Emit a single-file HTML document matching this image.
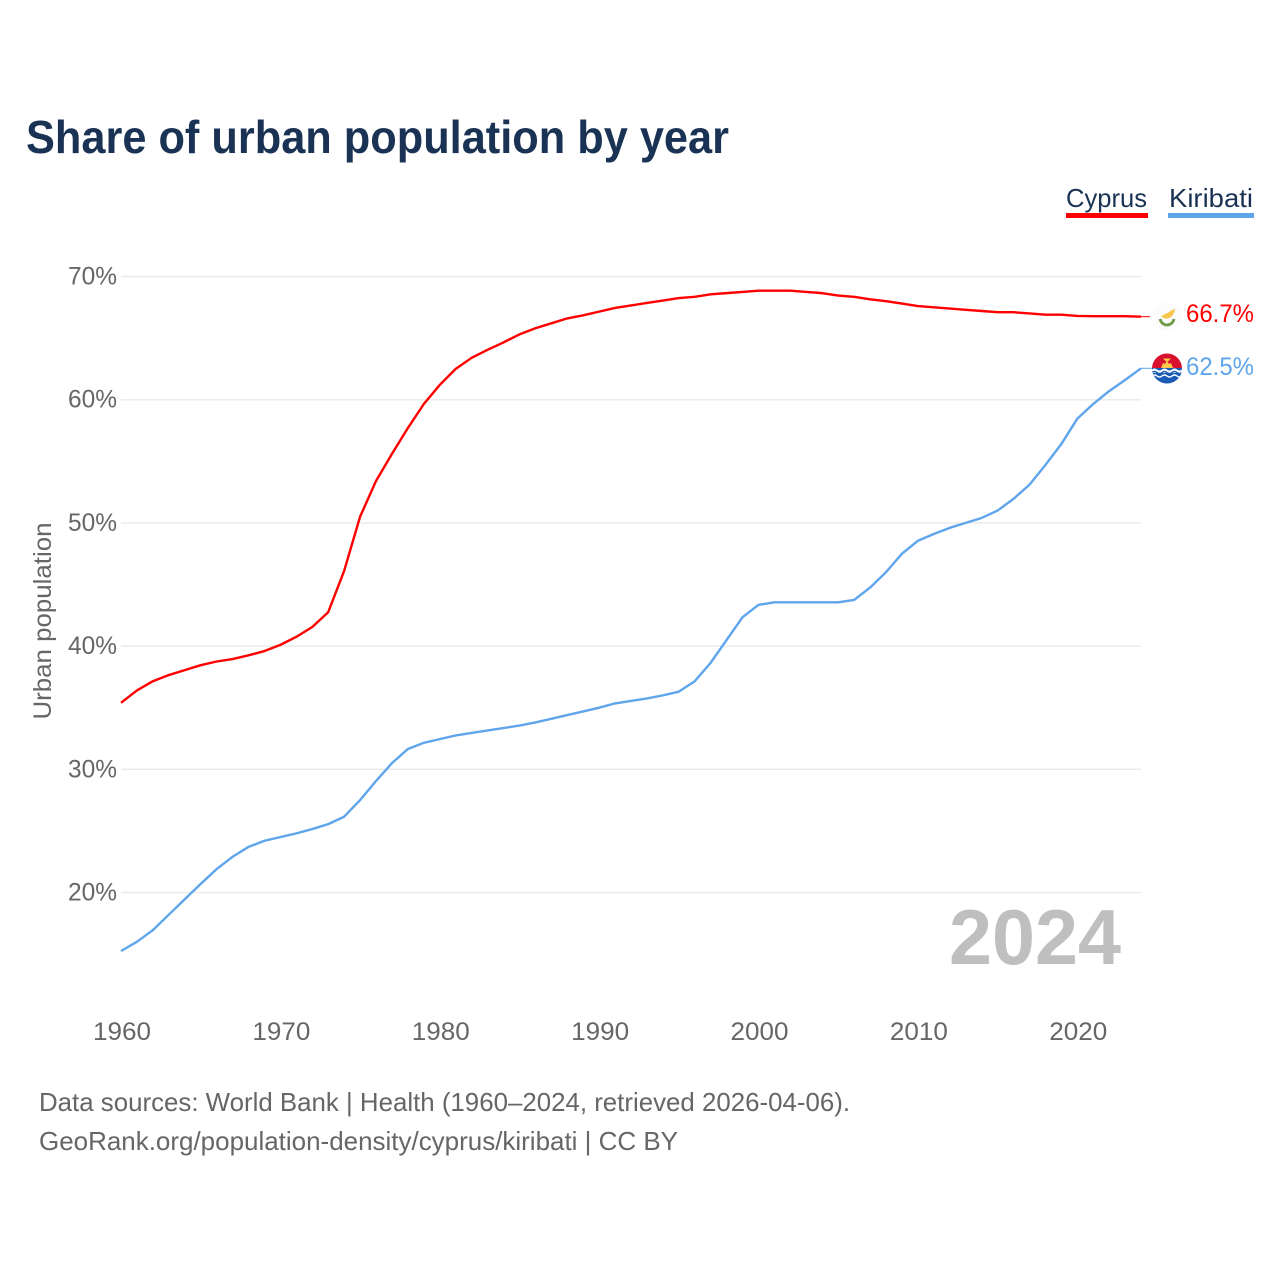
<!DOCTYPE html>
<html lang="en">
<head>
<meta charset="utf-8">
<title>Share of urban population by year</title>
<style>
html,body{margin:0;padding:0;background:#fff;width:1280px;height:1280px;overflow:hidden}
svg{display:block}
text{font-family:"Liberation Sans",sans-serif}
</style>
</head>
<body>
<svg id="chart" width="1280" height="1280" viewBox="0 0 1280 1280" xmlns="http://www.w3.org/2000/svg">
  <rect x="0" y="0" width="1280" height="1280" fill="#fff"/>
  <text x="26" y="153" font-size="46" font-weight="700" fill="#1a3354" textLength="703" lengthAdjust="spacingAndGlyphs">Share of urban population by year</text>

  <g>
    <text x="1066" y="207" font-size="26" fill="#1a3354" textLength="81" lengthAdjust="spacingAndGlyphs">Cyprus</text>
    <rect x="1066" y="213" width="82" height="5" fill="#ff0000"/>
  </g>
  <g>
    <text x="1169" y="207" font-size="26" fill="#1a3354" textLength="84" lengthAdjust="spacingAndGlyphs">Kiribati</text>
    <rect x="1168" y="213" width="86" height="5" fill="#5ea5ec"/>
  </g>

  <g id="grid"></g>
  <g id="yticks"></g>
  <g id="xticks"></g>

  <text transform="translate(51,621) rotate(-90)" text-anchor="middle" font-size="25" fill="#666" textLength="197" lengthAdjust="spacingAndGlyphs">Urban population</text>

  <text x="949" y="964" font-size="78" font-weight="700" fill="#bfbfbf" textLength="172" lengthAdjust="spacingAndGlyphs">2024</text>

  <g id="series"></g>

  <g>
    <circle cx="1167" cy="316.5" r="14.5" fill="#fbfbfb"/>
    <path d="M1161 316 C1164 314.5 1167 313.5 1169 312 C1171 310.5 1173 309.5 1175.5 309 C1174.5 312 1173 315 1171 317 C1168 319 1164 319.5 1161 316 Z" fill="#f6c54a"/>
    <path d="M1160 319 C1161 323 1164 325 1167 325 C1170 325 1173 323 1174 319" fill="none" stroke="#6f9a45" stroke-width="2.8"/>
  </g>
  <g>
    <clipPath id="kiribati-clip"><circle cx="1167" cy="368.5" r="15"/></clipPath>
    <g clip-path="url(#kiribati-clip)">
      <rect x="1152" y="353" width="30" height="15" fill="#d8112e"/>
      <rect x="1152" y="368" width="30" height="16" fill="#1a5cb5"/>
      <path d="M1161 368 L1163 363 L1165 364 L1167 360 L1169 364 L1171 363 L1173 368 Z" fill="#fbc84b"/>
      <path d="M1163 358.5 L1171 358.5 L1168.5 361 L1165.5 361 Z" fill="#fbc84b"/>
      <path d="M1152 369.5 q2.5 -2 5 0 t5 0 t5 0 t5 0 t5 0 t5 0 V373 H1152 Z" fill="#fff"/>
      <path d="M1152 372.5 q2.5 -2 5 0 t5 0 t5 0 t5 0 t5 0 t5 0" fill="none" stroke="#1a5cb5" stroke-width="1.4"/>
      <path d="M1152 376 q2.5 -2 5 0 t5 0 t5 0 t5 0 t5 0 t5 0" fill="none" stroke="#fff" stroke-width="1.4"/>
    </g>
  </g>

  <g id="labels"></g>

  <text x="39" y="1111" font-size="26" fill="#666" textLength="811" lengthAdjust="spacingAndGlyphs">Data sources: World Bank | Health (1960–2024, retrieved 2026-04-06).</text>
  <text x="39" y="1150" font-size="26" fill="#666" textLength="639" lengthAdjust="spacingAndGlyphs">GeoRank.org/population-density/cyprus/kiribati | CC BY</text>
</svg>
<script>
const firstYear = 1960;
const xTickYears = [1960, 1970, 1980, 1990, 2000, 2010, 2020];
const yTickValues = [20, 30, 40, 50, 60, 70];
const cyprusValues = [
  35.4, 36.4, 37.15, 37.65, 38.05, 38.45, 38.75, 38.95, 39.25, 39.6,
  40.1, 40.75, 41.55, 42.75, 46.1, 50.5, 53.4, 55.6, 57.7, 59.65,
  61.2, 62.5, 63.4, 64.05, 64.65, 65.3, 65.8, 66.2, 66.6, 66.85,
  67.15, 67.45, 67.65, 67.85, 68.05, 68.25, 68.35, 68.55, 68.65, 68.75,
  68.85, 68.85, 68.85, 68.75, 68.65, 68.45, 68.35, 68.15, 68.0, 67.8,
  67.6, 67.5, 67.4, 67.3, 67.2, 67.1, 67.1, 67.0, 66.9, 66.9,
  66.8, 66.78, 66.78, 66.78, 66.74
];
const kiribatiValues = [
  15.25, 16.0, 16.95, 18.2, 19.45, 20.7, 21.9, 22.9, 23.7, 24.2,
  24.5, 24.8, 25.15, 25.55, 26.15, 27.5, 29.05, 30.5, 31.65, 32.15,
  32.45, 32.75, 32.95, 33.15, 33.35, 33.55, 33.8, 34.1, 34.4, 34.7,
  35.0, 35.35, 35.55, 35.75, 36.0, 36.3, 37.15, 38.65, 40.5, 42.35,
  43.35, 43.55, 43.55, 43.55, 43.55, 43.55, 43.75, 44.75, 46.0, 47.5,
  48.55, 49.1, 49.6, 50.0, 50.4, 51.0, 51.95, 53.1, 54.7, 56.4,
  58.45, 59.65, 60.7, 61.6, 62.55
];

const NS = 'http://www.w3.org/2000/svg';
function xScale(year) { return 121 + (year - 1960) * (1141 - 121) / 64; }
function yScale(value) { return 892.5 - (value - 20) * (892.5 - 276.5) / 50; }
function make(tag, attrs, parent, content) {
  const el = document.createElementNS(NS, tag);
  for (const key in attrs) el.setAttribute(key, attrs[key]);
  if (content !== undefined) el.textContent = content;
  parent.appendChild(el);
  return el;
}
const gridGroup = document.getElementById('grid');
const yTickGroup = document.getElementById('yticks');
const xTickGroup = document.getElementById('xticks');
const seriesGroup = document.getElementById('series');
const labelGroup = document.getElementById('labels');

yTickValues.forEach(function (value) {
  const y = yScale(value);
  const line = make('line', {x1: 121, x2: 1141, y1: y, y2: y, stroke: '#ebebeb', 'stroke-width': 1.5}, gridGroup);
  
  
  const label = make('text', {x: 68, y: y + 8, 'font-size': 25, fill: '#666', textLength: 49, lengthAdjust: 'spacingAndGlyphs'}, yTickGroup, value + '%');
  
  
});

xTickYears.forEach(function (year) {
  const label = make('text', {x: xScale(year) - 28, y: 1040, 'font-size': 25, fill: '#666', textLength: 58, lengthAdjust: 'spacingAndGlyphs'}, xTickGroup, String(year));
  
  
});

function linePoints(values) {
  return values.map(function (v, i) {
    return xScale(firstYear + i).toFixed(2) + ',' + yScale(v).toFixed(2);
  }).join(' ');
}
function lastYear(values) { return firstYear + values.length - 1; }
function lastValue(values) { return values[values.length - 1]; }

const cyprusLine = make('polyline', {points: linePoints(cyprusValues), fill: 'none', stroke: '#ff0000', 'stroke-width': 2.4, 'stroke-linejoin': 'round'}, seriesGroup);


const kiribatiLine = make('polyline', {points: linePoints(kiribatiValues), fill: 'none', stroke: '#5ea5ec', 'stroke-width': 2.4, 'stroke-linejoin': 'round'}, seriesGroup);



const cyprusEndY = yScale(lastValue(cyprusValues));
const kiribatiEndY = yScale(lastValue(kiribatiValues));
const cyprusLeader = make('line', {x1: xScale(lastYear(cyprusValues)), x2: 1150, y1: cyprusEndY, y2: cyprusEndY, stroke: '#ff0000', 'stroke-width': 1}, seriesGroup);


const kiribatiLeader = make('line', {x1: xScale(lastYear(kiribatiValues)), x2: 1152, y1: kiribatiEndY, y2: kiribatiEndY, stroke: '#5ea5ec', 'stroke-width': 1}, seriesGroup);



const cyprusLabel = make('text', {x: 1186, y: 322, 'font-size': 25, fill: '#ff0000', textLength: 68, lengthAdjust: 'spacingAndGlyphs'}, labelGroup, lastValue(cyprusValues).toFixed(1) + '%');


const kiribatiLabel = make('text', {x: 1186, y: 375, 'font-size': 25, fill: '#5ea5ec', textLength: 68, lengthAdjust: 'spacingAndGlyphs'}, labelGroup, lastValue(kiribatiValues).toFixed(1) + '%');


</script>
</body>
</html>
